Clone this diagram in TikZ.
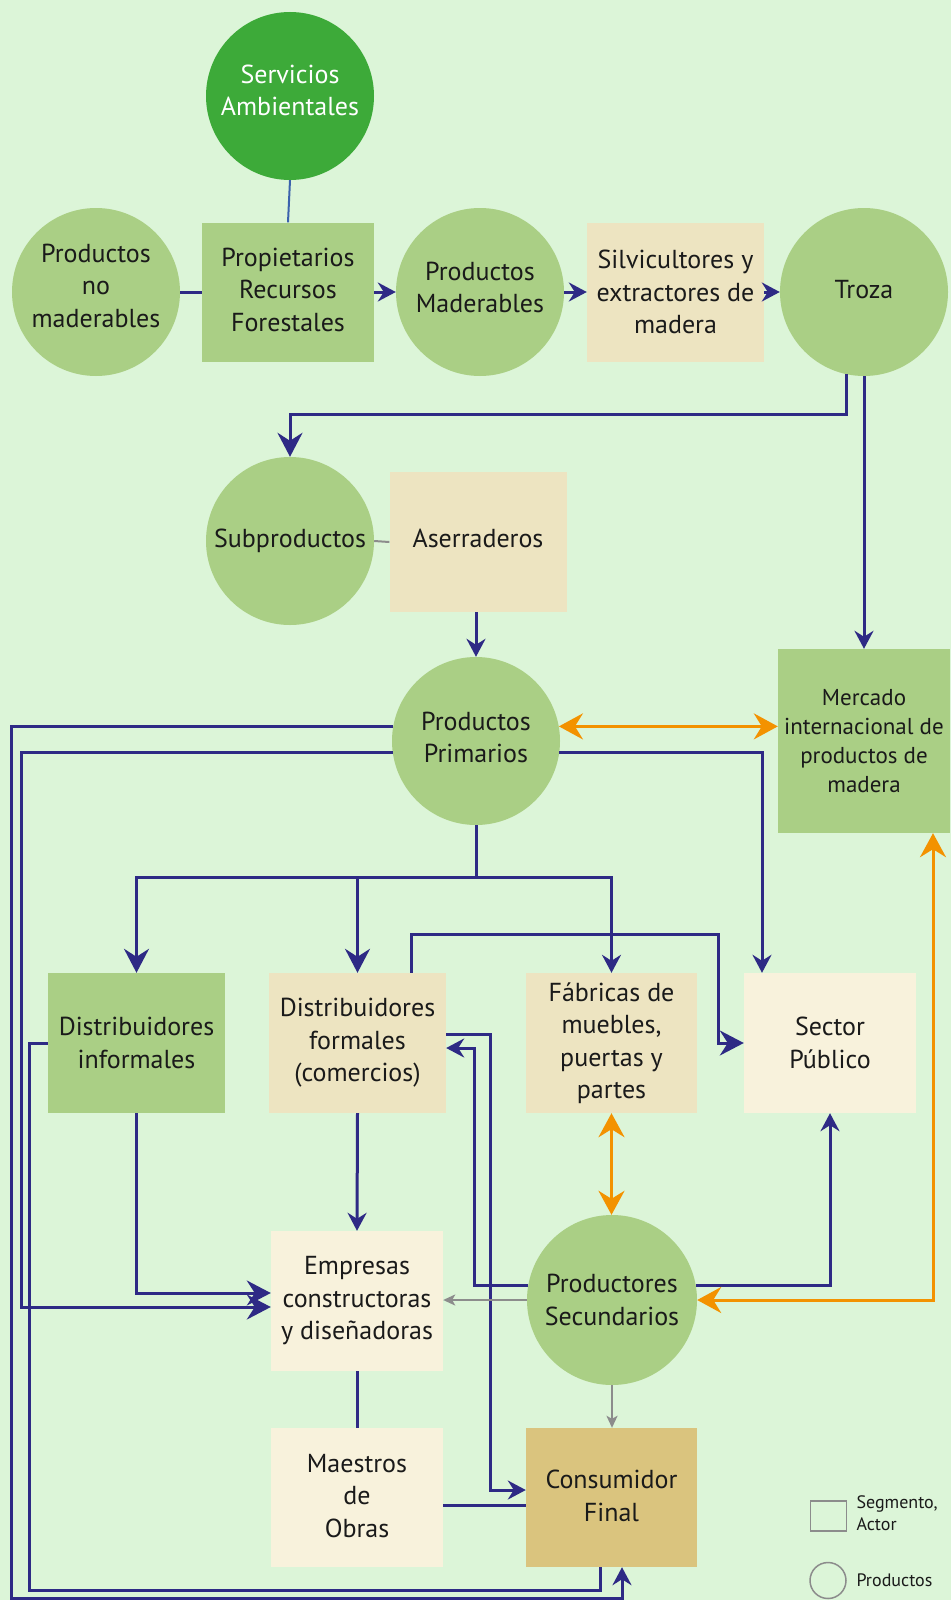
\documentclass[tikz,border=0pt]{standalone}
\usepackage{fontspec}
\setmainfont{PT Sans}
\usetikzlibrary{arrows.meta}
\definecolor{fondo}{HTML}{DCF5D8}
\definecolor{verdeoscuro}{HTML}{3DAA39}
\definecolor{verdeclaro}{HTML}{AACF85}
\definecolor{beige}{HTML}{EDE4C1}
\definecolor{crema}{HTML}{F8F2DC}
\definecolor{dorado}{HTML}{DAC47E}
\definecolor{azul}{HTML}{2E2A85}
\definecolor{azulclaro}{HTML}{3B62AD}
\definecolor{naranja}{HTML}{F39200}
\definecolor{gris}{HTML}{8C8C8C}
\definecolor{texto}{HTML}{1A1A1A}
\begin{document}
\begin{tikzpicture}[x=1pt,y=-1pt,
producto/.style={circle,fill=verdeclaro,minimum size=168pt,inner sep=0pt,align=center,text=texto,font=\fontsize{26}{32.5}\selectfont},
actor/.style={rectangle,minimum width=172pt,minimum height=139pt,inner sep=0pt,align=center,text=texto,font=\fontsize{26}{32.5}\selectfont},
flujo/.style={draw=azul,line width=3pt},
grande/.style={-{Stealth[length=24pt,width=25pt,inset=8pt]}},
medio/.style={-{Stealth[length=18pt,width=19pt,inset=6pt]}},
dobleflujo/.style={draw=naranja,line width=3pt,{Stealth[length=24pt,width=26pt,inset=8pt]}-{Stealth[length=24pt,width=26pt,inset=8pt]}},
secundario/.style={draw=gris,line width=2pt,-{Stealth[length=12pt,width=11pt,inset=3pt]}}]
\fill[fondo] (0,0) rectangle (951,1600);
\node[producto,fill=verdeoscuro,text=white,text depth=12pt] (serv) at (290,96) {Servicios\\Ambientales};
\node[producto,text depth=13pt] (nomad) at (96,292) {Productos\\no\\maderables};
\node[actor,fill=verdeclaro,text depth=5pt] (prop) at (288,292) {Propietarios\\Recursos\\Forestales};
\node[producto,text depth=9pt] (mad) at (480,292) {Productos\\Maderables};
\node[actor,fill=beige,minimum width=177pt] (silv) at (675.5,292) {Silvicultores y\\extractores de\\madera};
\node[producto,text depth=6pt] (troza) at (864,292) {Troza};
\node[producto] (subp) at (290,541) {Subproductos};
\node[actor,fill=beige,minimum width=177pt,minimum height=140pt,text depth=8pt] (aserr) at (478,542) {Aserraderos};
\node[producto,text depth=7pt] (prim) at (476,741) {Productos\\Primarios};
\node[actor,fill=verdeclaro,minimum height=184pt,font=\fontsize{23}{29}\selectfont] (merc) at (864,741) {Mercado\\internacional de\\productos de\\madera};
\node[actor,fill=verdeclaro,minimum width=177pt,minimum height=140pt] (dinf) at (136.5,1043) {Distribuidores\\informales};
\node[actor,fill=beige,minimum width=177pt,minimum height=140pt] (dfor) at (357.5,1043) {Distribuidores\\formales\\(comercios)};
\node[actor,fill=beige,minimum width=171pt,minimum height=140pt] (fab) at (611.5,1043) {Fábricas de\\muebles,\\puertas y\\partes};
\node[actor,fill=crema,minimum height=140pt] (sect) at (830,1043) {Sector\\Público};
\node[actor,fill=crema,minimum height=140pt] (emp) at (357,1301) {Empresas\\constructoras\\y diseñadoras};
\node[producto,minimum size=170pt] (sec) at (612,1300) {Productores\\Secundarios};
\node[actor,fill=crema,text depth=4pt] (maes) at (357,1497.5) {Maestros\\de\\Obras};
\node[actor,fill=dorado,minimum width=171pt,text depth=4pt] (cons) at (611.5,1497.5) {Consumidor\\Final};
\coordinate (railA) at (11,1598);
\coordinate (railB) at (21,1307);
\coordinate (railC) at (29,1590);
\draw[draw=azulclaro,line width=2pt] (serv.south) -- (prop.north);
\draw[flujo] (nomad.east) -- (prop.west);
\draw[flujo,medio] (prop.east) -- (mad.west);
\draw[flujo,medio] (mad.east) -- (silv.west);
\draw[flujo,medio] (silv.east) -- (troza.west);
\draw[flujo,grande] (troza.258) -- ++(0,40) -| (subp.north);
\draw[flujo,medio] (troza.south) -- (merc.north);
\draw[draw=gris,line width=2pt] (subp.east) -- (aserr.west);
\draw[flujo,medio] (aserr.south -| prim.north) -- (prim.north);
\draw[dobleflujo] (prim.10) -- (prim.10 -| merc.west);
\draw[flujo,medio] (prim.170) -| (railA) -| ([xshift=10.5]cons.south);
\draw[flujo,grande] (prim.188) -| (railB) -- (railB -| emp.west);
\draw[flujo,medio] (prim.352) -| ([xshift=-68]sect.north);
\draw[flujo] (prim.south) -- ++(0,52) coordinate (reparto);
\draw[flujo,grande] (reparto) -| (dinf.north);
\draw[flujo,grande] (reparto) -| (dfor.north);
\draw[flujo,medio] (reparto) -| (fab.north);
\draw[flujo,grande] ([xshift=53.5]dfor.north) -- ++(0,-38) -| ([xshift=-25]sect.west) -- (sect.west);
\draw[flujo] (dinf.west) -| (railC) -| ([xshift=-11.5]cons.south);
\draw[flujo,grande] (dinf.south) |- ([yshift=8]emp.west);
\draw[flujo,medio] (dfor.south) -- (emp.north);
\draw[flujo,medio] ([yshift=9]dfor.east) -- ++(44,0) |- ([yshift=7.5]cons.west);
\draw[flujo,medio] (sec.170) -| ([xshift=28,yshift=-5]dfor.east) -- ([yshift=-5]dfor.east);
\draw[flujo,medio] (sec.10) -| (sect.south);
\draw[dobleflujo] (sec.east) -| ([xshift=69]merc.south);
\draw[dobleflujo] (fab.south) -- (fab.south |- sec.north);
\draw[secundario] (sec.west) -- (sec.west -| emp.east);
\draw[secundario] (sec.south) -- (sec.south |- cons.north);
\draw[flujo] (emp.south) -- (maes.north);
\draw[flujo] ([yshift=-7.5]maes.east) -- ([yshift=-7.5]cons.west);
\node[draw=gris,line width=1.5pt,minimum width=36pt,minimum height=30pt,inner sep=0pt] (leyactor) at (828.5,1516) {};
\node[anchor=west,align=left,text=texto,font=\fontsize{18}{21.5}\selectfont] (leyactortxt) at (853,1513) {Segmento,\\Actor};
\node[circle,draw=gris,line width=1.5pt,minimum size=36pt,inner sep=0pt] (leyprod) at (828,1580.5) {};
\node[anchor=west,text=texto,font=\fontsize{18}{21.5}\selectfont] (leyprodtxt) at (853,1580) {Productos};
\end{tikzpicture}
\end{document}
